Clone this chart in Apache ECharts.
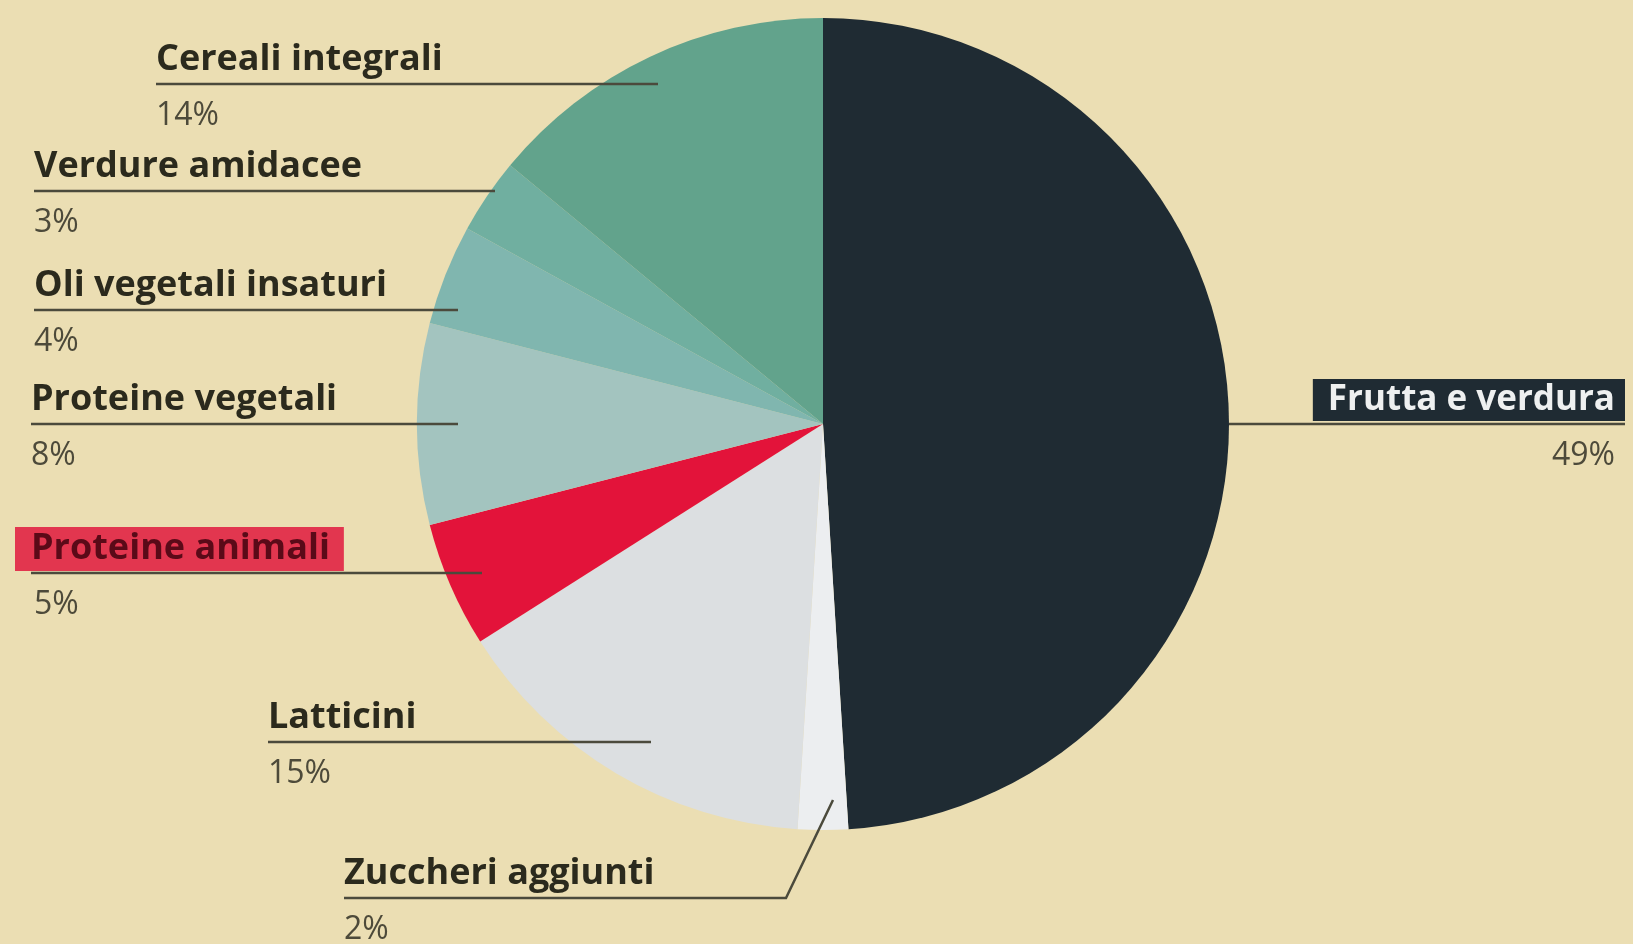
<!DOCTYPE html>
<html>
<head>
<meta charset="utf-8">
<style>
  html, body { margin: 0; padding: 0; background: #ebdeb3; }
  #chart { width: 1633px; height: 944px; }
</style>
<script src="https://cdn.jsdelivr.net/npm/echarts@6/dist/echarts.min.js"></script>
</head>
<body>
<div id="chart"></div>
<script>
// ---- data ----
const categories = ['Frutta e verdura', 'Zuccheri aggiunti', 'Latticini', 'Proteine animali',
  'Proteine vegetali', 'Oli vegetali insaturi', 'Verdure amidacee', 'Cereali integrali'];
const values = [49, 2, 15, 5, 8, 4, 3, 14];
const colors = ['#1f2b33', '#eceef0', '#dcdfe1', '#e3133a', '#a3c4bf', '#80b6af', '#70afa0', '#62a38c'];

// ---- label layout (pixel positions of labels and leader lines) ----
const ROW = 56;
const SHIFT = 4;
const labelPos = [
  { x: 1625, lineY: 424, align: 'right', pts: [[1229, 424], [1229, 424], [1625, 424]] },
  { x: 344, lineY: 898, align: 'left', pts: [[833, 800], [786, 898], [344, 898]] },
  { x: 268, lineY: 742, align: 'left', pts: [[651, 742], [651, 742], [268, 742]] },
  { x: 15, lineY: 573, align: 'left', pts: [[482, 573], [482, 573], [31, 573]] },
  { x: 31, lineY: 424, align: 'left', pts: [[458, 424], [458, 424], [31, 424]] },
  { x: 34, lineY: 310, align: 'left', pts: [[458, 310], [458, 310], [34, 310]] },
  { x: 34, lineY: 191, align: 'left', pts: [[495, 191], [495, 191], [34, 191]] },
  { x: 156, lineY: 84, align: 'left', pts: [[658, 84], [658, 84], [156, 84]] }
];

const FONT = '"Open Sans", Lato, sans-serif';
const chart = echarts.init(document.getElementById('chart'), null, { renderer: 'canvas' });

const pieBase = {
  type: 'pie',
  center: [823, 424],
  radius: [0, 406],
  startAngle: 90,
  clockwise: true,
  silent: true,
  avoidLabelOverlap: false
};

// sectors
const sectorData = categories.map((name, i) => ({
  name: name, value: values[i], itemStyle: { color: colors[i] }
}));

// transparent overlay carrying labels and leader lines (drawn above all sectors)
const labelData = categories.map((name, i) => {
  const d = { name: name, value: values[i], itemStyle: { color: 'rgba(0,0,0,0)' } };
  if (i === 0) d.label = { formatter: '{nb|{b}}\n{pr|{c}%}' };
  else if (i === 3) d.label = { formatter: '{na|{b}}\n{pa|{c}%}' };
  return d;
});

const option = {
  backgroundColor: '#ebdeb3',
  animation: false,
  series: [
    Object.assign({}, pieBase, {
      z: 2,
      data: sectorData,
      label: { show: false },
      labelLine: { show: false }
    }),
    Object.assign({}, pieBase, {
      z: 3,
      data: labelData,
      label: {
        show: true,
        position: 'outside',
        opacity: 1,
        formatter: '{n|{b}}\n{p|{c}%}',
        fontFamily: FONT,
        rich: {
          n: { fontFamily: FONT, fontWeight: 'bold', fontSize: 36, color: '#2b2a1d', lineHeight: ROW },
          p: { fontFamily: FONT, fontSize: 32, color: '#4d4a3a', lineHeight: ROW },
          na: { fontFamily: FONT, fontWeight: 'bold', fontSize: 36, color: '#5a0a18', lineHeight: ROW,
                backgroundColor: '#e2364f', height: 44, padding: [0, 14, 0, 16] },
          pa: { fontFamily: FONT, fontSize: 32, color: '#4d4a3a', lineHeight: ROW, padding: [0, 0, 0, 19] },
          nb: { fontFamily: FONT, fontWeight: 'bold', fontSize: 35, color: '#eef0f0', lineHeight: ROW,
                backgroundColor: '#1f2b33', height: 42, padding: [0, 10, 0, 15], align: 'right' },
          pr: { fontFamily: FONT, fontSize: 32, color: '#4d4a3a', lineHeight: ROW, padding: [0, 10, 0, 0], align: 'right' }
        }
      },
      labelLine: {
        show: true,
        lineStyle: { color: '#4b4a3c', width: 2.5, opacity: 1 }
      },
      labelLayout: function (params) {
        const L = labelPos[params.dataIndex];
        return {
          x: L.x,
          y: L.lineY - ROW + SHIFT,
          align: L.align,
          verticalAlign: 'top',
          labelLinePoints: L.pts
        };
      }
    })
  ]
};
chart.setOption(option);
</script>
</body>
</html>
